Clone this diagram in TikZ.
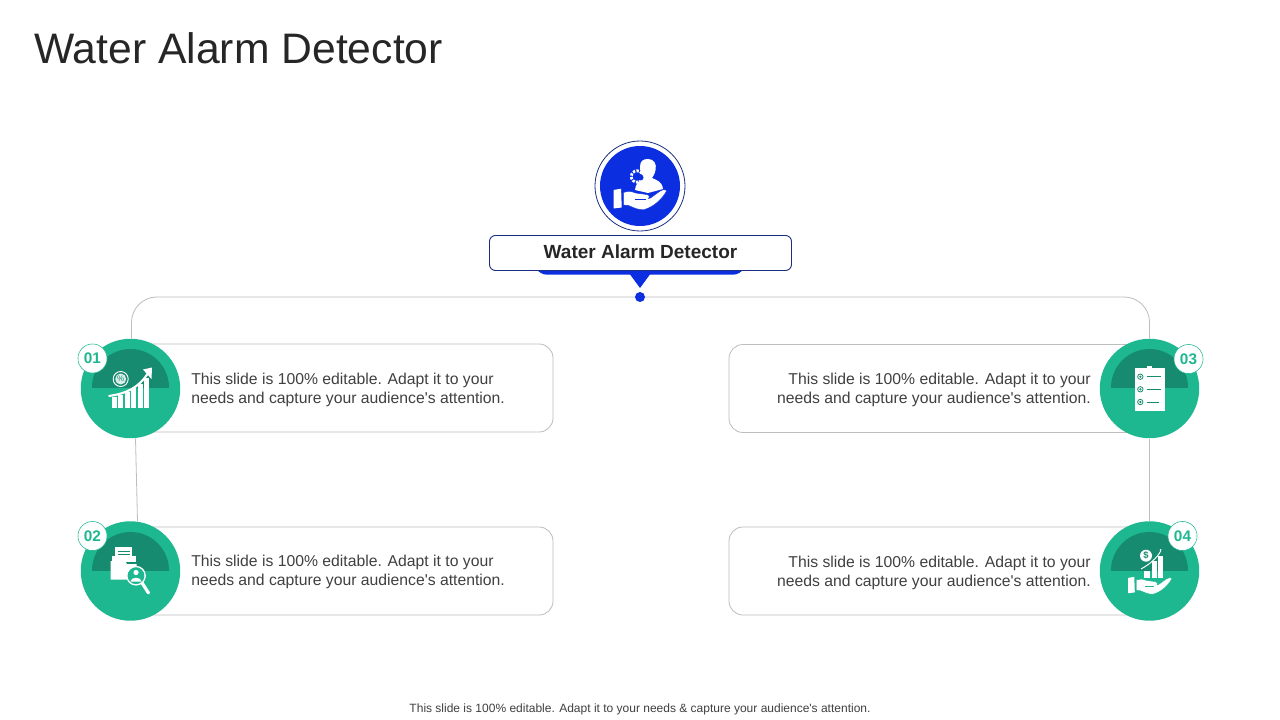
\documentclass[tikz,border=0pt]{standalone}
\usepackage{fontspec}
\setmainfont{Liberation Sans}
\usetikzlibrary{backgrounds}
\definecolor{teal1}{HTML}{1DB790}
\definecolor{teal2}{HTML}{178B70}
\definecolor{blue1}{HTML}{0B2EE0}
\definecolor{navy1}{HTML}{1B2F80}
\definecolor{line1}{HTML}{BDBDBD}
\definecolor{ink1}{HTML}{262626}
\definecolor{ink2}{HTML}{404040}
\tikzset{
  px/.style={x=0.75pt,y=-0.75pt},
  card/.style={draw=line1,line width=0.6pt,fill=white,rounded corners=10.5pt,minimum width=#1*0.75pt,minimum height=66pt,inner sep=0pt},
  disc/.style={circle,fill=teal1,minimum size=74.6pt,inner sep=0pt},
  badge/.style={circle,draw=teal1,line width=0.4pt,fill=white,minimum size=21.8pt,inner sep=0pt,text=teal1,font=\fontsize{11.5}{12}\selectfont\bfseries},
  body/.style={font=\fontsize{11.8}{14.25}\selectfont,text=ink2,inner sep=0pt},
  conn/.style={draw=line1,line width=0.6pt},
  icn/.style={fill=white,draw=none},
}
% hand: cuff at top-left (0,0), 53 wide, 20 tall in local px; #1 = colour of the disc behind it
\newcommand{\handicon}[1]{%
  \fill[icn] (0,0.5) -- (7.6,-0.8) -- (8.2,18) -- (0,19) -- cycle;
  \fill[white,draw=#1,line width=0.3pt] (10,3) .. controls (14,1.5) and (18,1.5) .. (22,3.5) -- (33,5)
    .. controls (36,5.5) and (37,8) .. (35,9) -- (37,8.5) -- (46,2) .. controls (49,0) and (52,-0.5) .. (53.3,1)
    .. controls (49,9) and (41,17) .. (31,20) .. controls (25,21) and (20,18) .. (15,16)
    -- (10,15.5) -- cycle;
  \draw[#1,line width=0.35pt] (21,10) -- (32,10);
}
\newcommand{\blurb}{This slide is 100\% editable. Adapt it to your\\needs and capture your audience\textquotesingle s attention.}
\begin{document}
\begin{tikzpicture}[px]
\useasboundingbox (0,0) rectangle (1280,720);

\node[anchor=west,inner sep=0pt,text=ink1,font=\fontsize{32}{36}\selectfont] (title) at (34,48) {Water Alarm Detector};

% hub
\node[circle,draw=navy1,line width=0.6pt,fill=white,minimum size=67.5pt,inner sep=0pt] (ring) at (640,186) {};
\node[circle,fill=blue1,minimum size=60pt,inner sep=0pt] (hub) at (640,186) {};
\fill[blue1] (535,266) -- (745,266) -- (745,268) .. controls (741,272) and (738,274.7) .. (733,274.7) -- (547,274.7) .. controls (542,274.7) and (539,272) .. (535,268) -- cycle;
\fill[blue1] (629,273) -- (651,273) -- (640,288) -- cycle;
\node[draw=navy1,line width=0.7pt,fill=white,rounded corners=4.5pt,minimum width=226.5pt,minimum height=26.25pt,inner sep=0pt] (label) at (640.5,253) {};
\node[inner sep=0pt,text=ink1,font=\fontsize{14.25}{16}\selectfont\bfseries] (labeltext) at (640.5,252) {Water Alarm Detector};
\node[circle,fill=blue1,minimum size=7.5pt,inner sep=0pt] (dot) at (640,297) {};

% cards
\node[card=423] (card1) at (341.5,388) {};
\node[card=423] (card2) at (341.5,571) {};
\node[card=421] (card3) at (939.5,388.5) {};
\node[card=421] (card4) at (939.5,571) {};

% discs
\node[disc] (c1) at (130.5,388.5) {};
\node[disc] (c2) at (130.5,571) {};
\node[disc] (c3) at (1149.5,388.5) {};
\node[disc] (c4) at (1149.5,571) {};
\foreach \cx/\cy in {130.5/387.5,130.5/570.5,1149.5/387.5,1149.5/570.5}{
  \begin{scope}
  \clip (\cx-40,\cy-40) rectangle (\cx+40,\cy);
  \fill[teal2] (\cx,\cy) circle[radius=38.5];
  \end{scope}
}

% connectors
\begin{pgfonlayer}{background}
\fill[white] (0,0) rectangle (1280,720);
\draw[conn,rounded corners=19pt] ([xshift=0.75pt]c1.north) |- (dot.center) -| (c3.north);
\draw[conn] ([xshift=3.75pt]c1.south) -- ([xshift=5.25pt]c2.north);
\draw[conn] (c3.south) -- (c4.north);
\end{pgfonlayer}

% badges
\node[badge] (b1) at (92.5,358.5) {01};
\node[badge] (b2) at (92.5,536) {02};
\node[badge] (b3) at (1188.5,359) {03};
\node[badge] (b4) at (1182.5,536) {04};

% text
\node[body,anchor=west,align=left] (t1) at (191,390) {\blurb};
\node[body,anchor=west,align=left] (t2) at (191,572) {\blurb};
\node[body,anchor=east,align=right] (t3) at (1091,390) {\blurb};
\node[body,anchor=east,align=right] (t4) at (1091,573) {\blurb};
\node[inner sep=0pt,text=ink2,font=\fontsize{9}{10}\selectfont] (foot) at (640,709.5) {This slide is 100\% editable. Adapt it to your needs \& capture your audience\textquotesingle s attention.};

% hub icon
\fill[icn] (648,159) .. controls (654,159) and (657,164) .. (655.5,170) .. controls (655,174) and (653,176) .. (652,178)
  .. controls (656,180) and (662,181) .. (663,189) -- (648,193) -- (635,190) .. controls (635,184) and (640,180) .. (644,178)
  .. controls (641,174) and (640,171) .. (640,167) .. controls (640,161) and (643,159) .. (648,159) -- cycle;
\draw[white,line width=2.1pt,dash pattern=on 1.8pt off 1pt] (637,176.5) circle[radius=5.7];
\fill[blue1] (640.5,177.5) circle[radius=3];
\begin{scope}[shift={(613.5,189.5)}]
\handicon{blue1}
\end{scope}

% icon 1
\draw[white,line width=0.7pt,fill=teal2] (120.7,379) circle[radius=7.5];
\fill[white!85!teal2] (120.7,379) circle[radius=5.5];
\node[inner sep=0pt,text=teal2,font=\fontsize{6}{6}\selectfont] (pct) at (120.7,379) {\%};
\foreach \x/\y in {111.7/397,118.2/395,124.7/392,131.2/388,137.7/384,144.2/378}{
  \fill[icn] (\x,\y) rectangle (\x+5,407.5);
}
\draw[white,line width=1.6pt] (108.5,396) .. controls (125,394) and (139,388) .. (148,373);
\fill[icn] (152,367.5) -- (151.5,379) -- (143,369.5) -- cycle;

% icon 2
\fill[icn] (115,547) rectangle (132,560);
\foreach \y in {551,554,557}{\draw[teal2,line width=0.5pt] (117.5,\y) -- (129.5,\y);}
\fill[icn] (112,556) rectangle (136,562);
\fill[icn] (110.7,561) -- (125,561) -- (127,564) -- (136.7,564) -- (136.7,579.5) -- (110.7,579.5) -- cycle;
\draw[white,line width=2.4pt,line cap=round] (141.5,582) -- (148.5,593);
\draw[white,line width=1pt,fill=teal1] (136,575.7) circle[radius=9.2];
\fill[icn] (136,572.5) circle[radius=2.6];
\fill[icn] (130.5,581.5) .. controls (131,576.5) and (141,576.5) .. (141.5,581.5) -- cycle;

% icon 3
\fill[icn] (1135,368) rectangle (1164.5,411);
\fill[icn] (1147,365.5) rectangle (1152,368.5);
\foreach \y/\xe in {376.7/1161,389.3/1160.5,402/1159}{
  \draw[teal2,line width=0.6pt] (1140.3,\y) circle[radius=2.7];
  \fill[teal2] (1140.3,\y) circle[radius=1.2];
  \draw[teal2,line width=0.7pt] (1146.5,\y) -- (\xe,\y);
}

% icon 4
\begin{scope}[shift={(1128,577.5)},x=0.62pt,y=-0.62pt]
\handicon{teal1}
\end{scope}
\fill[icn] (1144,570.7) rectangle (1150,578);
\fill[icn] (1151.7,560.7) rectangle (1157,578);
\fill[icn] (1158.3,556) rectangle (1163.3,578);
\draw[white,line width=0.7pt] (1141,569) .. controls (1150,564) and (1157,558) .. (1160.7,551);
\fill[icn] (1160.7,550) circle[radius=1];
\fill[icn] (1146,555.7) circle[radius=6];
\node[inner sep=0pt,text=teal2,font=\fontsize{7}{7}\selectfont\bfseries] (dollar) at (1146,555.7) {\$};
\end{tikzpicture}
\end{document}
